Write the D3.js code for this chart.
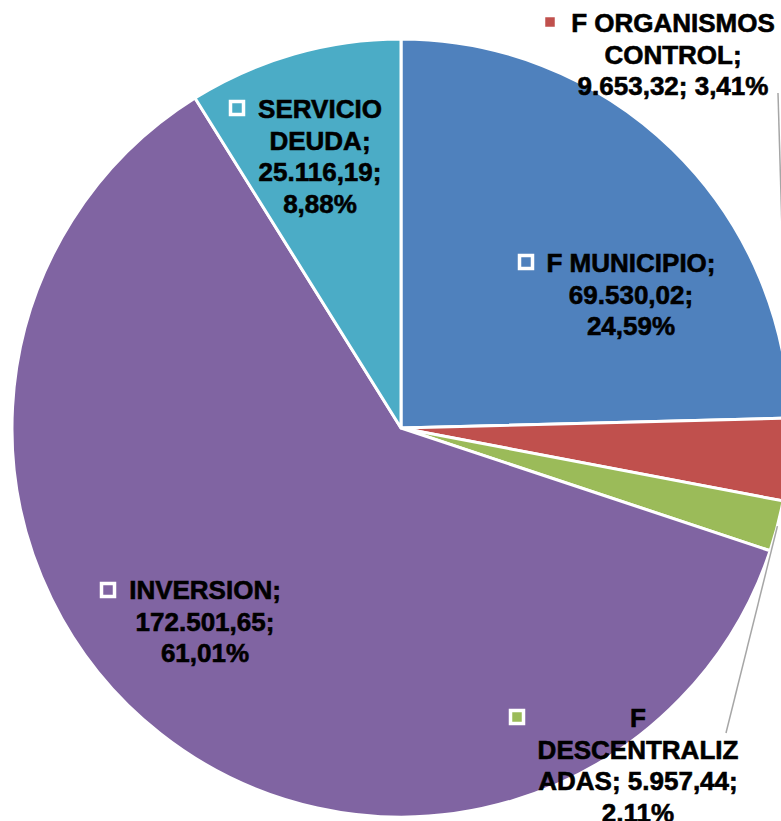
<!DOCTYPE html>
<html>
<head>
<meta charset="utf-8">
<script src="https://cdn.jsdelivr.net/npm/d3@7"></script>
<style>
  body { margin: 0; background: #fff; }
  svg { display: block; }
</style>
</head>
<body>
<svg id="chart" width="781" height="821"></svg>
<script>
'use strict';

// data
const categories = ["F MUNICIPIO", "F ORGANISMOS CONTROL", "F DESCENTRALIZADAS", "INVERSION", "SERVICIO DEUDA"];
const values = [69530.02, 9653.32, 5957.44, 172501.65, 25116.19];
const colors = ["#4F81BD", "#C0504D", "#9BBB59", "#8064A2", "#4BACC6"];

// label layout (line lengths for wrapping, text centre, first baseline, marker centre)
const labelLayout = [
  { lines: [12, 10, 6],     cx: 631, y: 272, mx: 526, my: 262 },
  { lines: [12, 8, 15],     cx: 673, y: 32,  mx: 550, my: 22,  leader: [778, 93] },
  { lines: [1, 12, 15, 5],  cx: 638, y: 727, mx: 517, my: 717, leader: [726, 733] },
  { lines: [10, 11, 6],     cx: 205, y: 599, mx: 108, my: 590 },
  { lines: [8, 6, 10, 5],   cx: 320, y: 118, mx: 237, my: 108 }
];

const svg = d3.select("#chart");
const cx = 401, cy = 428, r = 389;
const lineHeight = 31.5;

const es = d3.formatLocale({ decimal: ",", thousands: ".", grouping: [3], currency: ["", ""] });
const fmtVal = es.format(",.2f");
const fmtPct = es.format(".2%");
const total = d3.sum(values);

const pie = d3.pie().sort(null).value(d => d);
const arcs = pie(values);
const arc = d3.arc().innerRadius(0).outerRadius(r);
const edge = d3.arc().innerRadius(r).outerRadius(r);

const g = svg.append("g").attr("transform", `translate(${cx},${cy})`);

g.selectAll("path.slice")
  .data(arcs)
  .enter()
  .append("path")
  .attr("class", "slice")
  .attr("d", arc)
  .attr("fill", (d, i) => colors[i])
  .attr("stroke", "#fff")
  .attr("stroke-width", 3)
  .attr("stroke-linejoin", "round");

// leader lines
arcs.forEach((d, i) => {
  const lay = labelLayout[i];
  if (!lay.leader) return;
  const p = edge.centroid(d);
  svg.append("line")
    .attr("x1", cx + p[0])
    .attr("y1", cy + p[1])
    .attr("x2", lay.leader[0])
    .attr("y2", lay.leader[1])
    .attr("stroke", "#a6a6a6")
    .attr("stroke-width", 1.5);
});

function wrap(s, lens) {
  const out = [];
  let pos = 0;
  lens.forEach(n => {
    out.push(s.substr(pos, n));
    pos += n;
    while (s[pos] === " ") pos++;
  });
  return out;
}

// labels
categories.forEach((name, i) => {
  const lay = labelLayout[i];
  const full = `${name}; ${fmtVal(values[i])}; ${fmtPct(values[i] / total)}`;
  const lines = wrap(full, lay.lines);

  svg.append("rect")
    .attr("x", lay.mx - 6.5)
    .attr("y", lay.my - 6.5)
    .attr("width", 13)
    .attr("height", 13)
    .attr("fill", colors[i])
    .attr("stroke", "#fff")
    .attr("stroke-width", 3.5);

  const t = svg.append("text")
    .attr("text-anchor", "middle")
    .style("font-family", "'Liberation Sans', Arial, sans-serif")
    .style("font-weight", "bold")
    .style("font-size", "26px")
    .attr("fill", "#000")
    .attr("stroke", "#000")
    .attr("stroke-width", 0.6);

  t.selectAll("tspan")
    .data(lines)
    .enter()
    .append("tspan")
    .attr("x", lay.cx)
    .attr("y", (d, j) => lay.y + j * lineHeight)
    .text(d => d);
});
</script>
</body>
</html>
